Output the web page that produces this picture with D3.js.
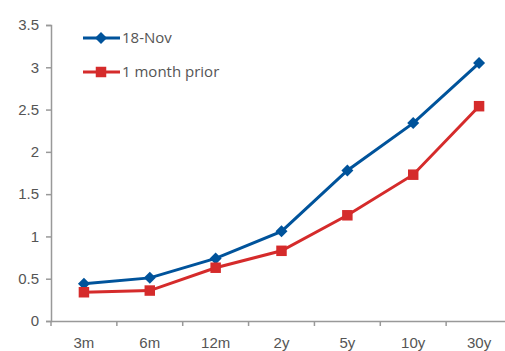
<!DOCTYPE html>
<html>
<head>
<meta charset="utf-8">
<script src="https://cdn.jsdelivr.net/npm/d3@7"></script>
<style>
  body { margin: 0; background: #fff; }
  svg { display: block; font-family: 'Open Sans', sans-serif; }
</style>
</head>
<body>
<div id="chart"></div>
<script>
const categories = ['3m', '6m', '12m', '2y', '5y', '10y', '30y']
const nov18 = [0.44, 0.51, 0.74, 1.06, 1.78, 2.34, 3.05]
const monthPrior = [0.34, 0.36, 0.63, 0.83, 1.25, 1.73, 2.54]
const yTicks = [0, 0.5, 1, 1.5, 2, 2.5, 3, 3.5]

const series = [
  { name: '18-Nov', values: nov18, color: '#00539b', rotate: 45, size: 72 },
  { name: '1 month prior', values: monthPrior, color: '#d52b2b', rotate: 0, size: 110 },
]

const W = 505, H = 351
const svg = d3.select('#chart').append('svg').attr('width', W).attr('height', H)

const x = d3.scaleBand().domain(categories).range([51, 512])
const y = d3.scaleLinear().domain([0, 3.5]).range([321, 25])

// Axes

const axisColor = '#999'
const textColor = '#555'
const fontSize = '15px'

const gy = svg.append('g')
  .attr('transform', 'translate(51,0)')
  .call(d3.axisLeft(y).tickValues(yTicks).tickSize(5).tickPadding(7).tickFormat(d3.format('')))
gy.select('.domain').attr('stroke', axisColor).attr('stroke-width', 1.5)
gy.selectAll('.tick line').attr('stroke', axisColor).attr('stroke-width', 1.5)
gy.selectAll('.tick text').attr('fill', textColor).style('font-size', fontSize)

const gx = svg.append('g')
  .attr('transform', 'translate(0,321)')
  .call(d3.axisBottom(x).tickSize(0).tickPadding(16))
gx.select('.domain').attr('stroke', axisColor).attr('stroke-width', 1.5)
gx.selectAll('.tick text').attr('fill', textColor).style('font-size', fontSize)

// tick marks between categories
gx.selectAll('.sep')
  .data(categories)
  .join('line')
  .attr('x1', d => x(d)).attr('x2', d => x(d))
  .attr('y1', 0).attr('y2', 5)
  .attr('stroke', axisColor).attr('stroke-width', 1.5)

// Lines

const cx = i => x(categories[i]) + x.bandwidth() / 2
const line = d3.line()
  .x((d, i) => cx(i))
  .y(d => y(d))

series.forEach(s => {
  svg.append('path')
    .datum(s.values)
    .attr('fill', 'none')
    .attr('stroke', s.color)
    .attr('stroke-width', 3)
    .attr('d', line)

  svg.selectAll(null)
    .data(s.values)
    .join('path')
    .attr('transform', (d, i) => `translate(${cx(i)},${y(d)}) rotate(${s.rotate})`)
    .attr('d', d3.symbol().type(d3.symbolSquare).size(s.size))
    .attr('fill', s.color)
})

// Legend

const legend = svg.append('g')
series.forEach((s, i) => {
  const ly = 38 + i * 34
  legend.append('line')
    .attr('x1', 83).attr('x2', 120).attr('y1', ly).attr('y2', ly)
    .attr('stroke', s.color).attr('stroke-width', 3)
  legend.append('path')
    .attr('transform', `translate(101,${ly}) rotate(${s.rotate})`)
    .attr('d', d3.symbol().type(d3.symbolSquare).size(s.size))
    .attr('fill', s.color)
  legend.append('text')
    .attr('x', 122).attr('y', ly + 5)
    .attr('fill', textColor)
    .style('font-size', fontSize)
    .text(s.name)
})
</script>
</body>
</html>
